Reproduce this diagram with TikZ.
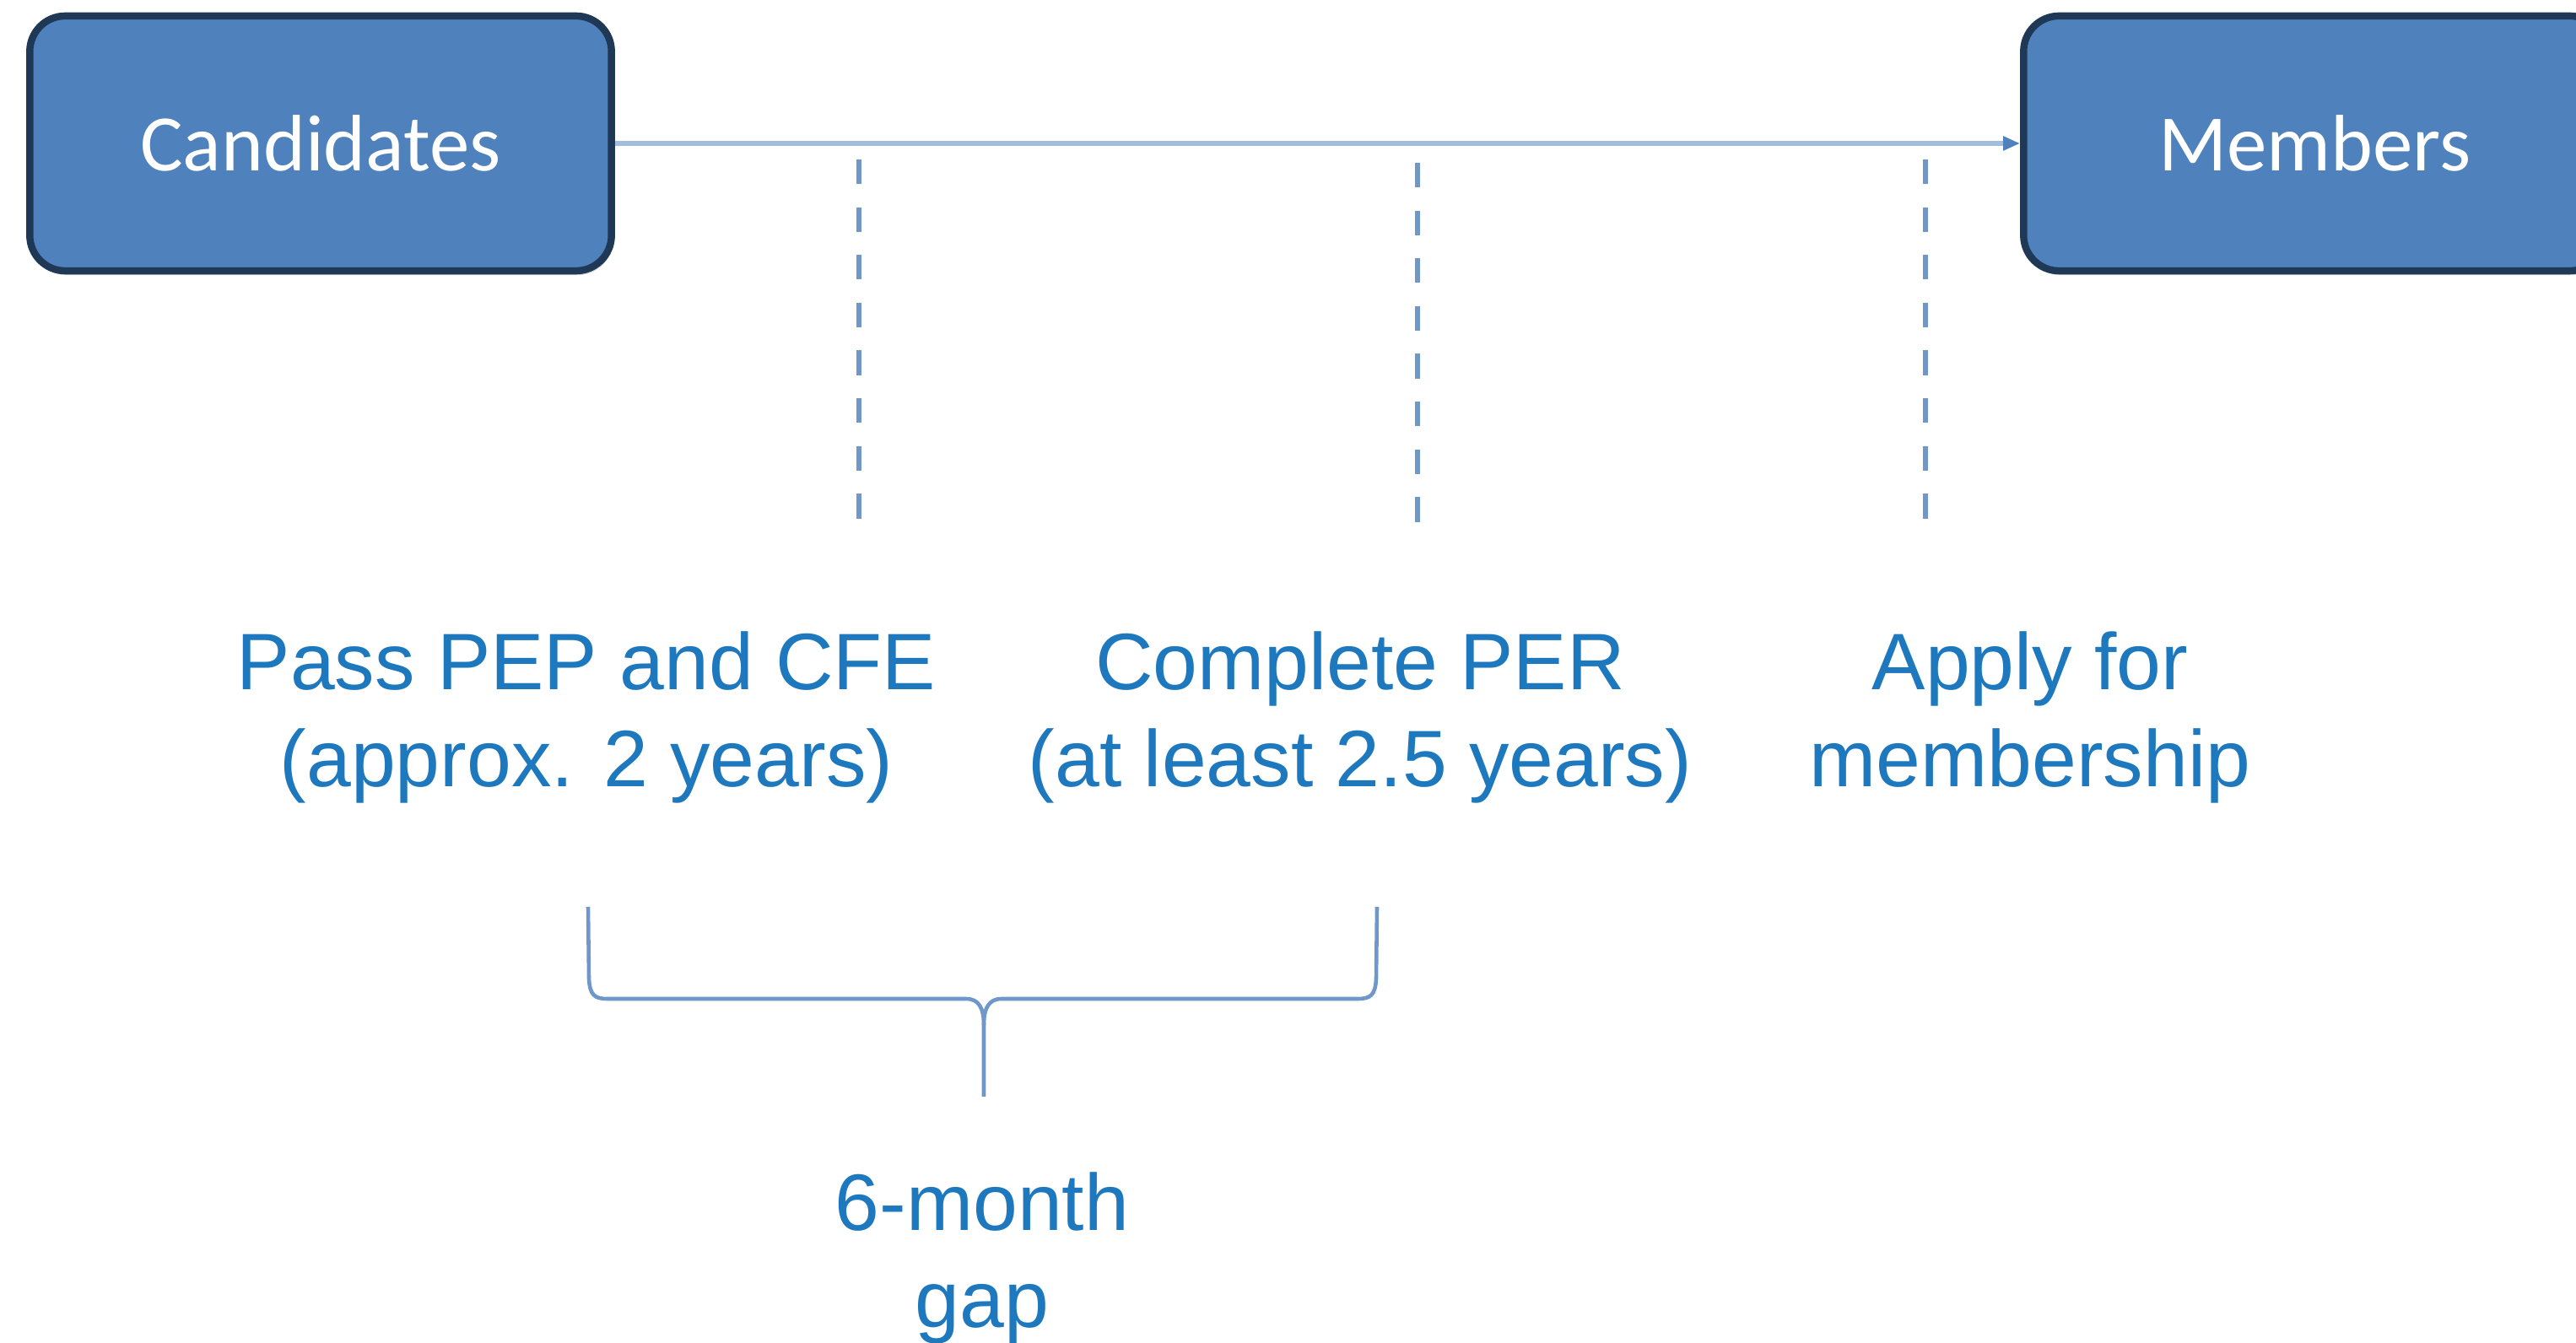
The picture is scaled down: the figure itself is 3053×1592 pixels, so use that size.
\documentclass[tikz,border=0pt]{standalone}
\usepackage{fontspec}
\setmainfont{Liberation Sans}
\newfontfamily\carlito{Carlito}
\usetikzlibrary{arrows.meta,shadows}
\definecolor{boxfill}{HTML}{4F81BD}
\definecolor{boxdraw}{HTML}{1F3856}
\definecolor{arrowline}{HTML}{A3BEDD}
\definecolor{dashcol}{HTML}{6F97CA}
\definecolor{txtblue}{HTML}{1E78BE}
\tikzset{
  stagebox/.style={draw=boxdraw, line width=2.4pt, fill=boxfill, rounded corners=0.42cm,
    minimum width=6.89cm, minimum height=3.02cm, text=white,
    font=\carlito\fontsize{27}{32}\selectfont,
    drop shadow={shadow xshift=0.02cm, shadow yshift=-0.05cm, opacity=0.35, fill=gray}},
  flowline/.style={draw=arrowline, line width=1.6pt},
  dashline/.style={draw=dashcol, line width=1.5pt, dash pattern=on 8.3pt off 7.8pt},
  bracestyle/.style={draw=dashcol, line width=1.3pt},
  label/.style={text=txtblue, align=center, font=\fontsize{27}{32.7}\selectfont, inner sep=0pt}
}
\begin{document}
\begin{tikzpicture}[x=0.01cm, y=-0.01cm]
\useasboundingbox (0,0) rectangle (3053,1592);
\clip (0,0) rectangle (3053,1592);
\node[stagebox] (cand) at (380,170) {\raisebox{-0.04cm}{Candidates}};
\node[stagebox] (mem) at (2743,170) {\raisebox{-0.04cm}{Members}};
\draw[flowline, -{Triangle[length=0.2cm, width=0.16cm, color=boxfill]}] (cand.east) -- (mem.west);
\coordinate (d1t) at (1018,189); \coordinate (d1b) at (1018,615);
\coordinate (d2t) at (1680,193); \coordinate (d2b) at (1680,619);
\coordinate (d3t) at (2282,189); \coordinate (d3b) at (2282,615);
\draw[dashline] (d1t) -- (d1b);
\draw[dashline] (d2t) -- (d2b);
\draw[dashline] (d3t) -- (d3b);
\node[label] (l1) at (695,850) {Pass PEP and CFE\\(approx. 2 years)};
\node[label] (l2) at (1612,850) {Complete PER\\(at least 2.5 years)};
\node[label] (l3) at (2406,850) {Apply for\\membership};
\coordinate (bl) at (697,1075);
\coordinate (br) at (1632,1075);
\coordinate (btip) at (1166,1300);
\draw[bracestyle] (bl) -- (698,1160) .. controls (699,1180) and (705,1184) .. (720,1184) -- (1145,1184) .. controls (1160,1184) and (1166,1195) .. (1166,1215) -- (btip);
\draw[bracestyle] (br) -- (1631,1160) .. controls (1630,1180) and (1624,1184) .. (1609,1184) -- (1187,1184) .. controls (1172,1184) and (1166,1195) .. (1166,1215);
\node[label] (gap) at (1164,1491) {6-month\\gap};
\end{tikzpicture}
\end{document}
